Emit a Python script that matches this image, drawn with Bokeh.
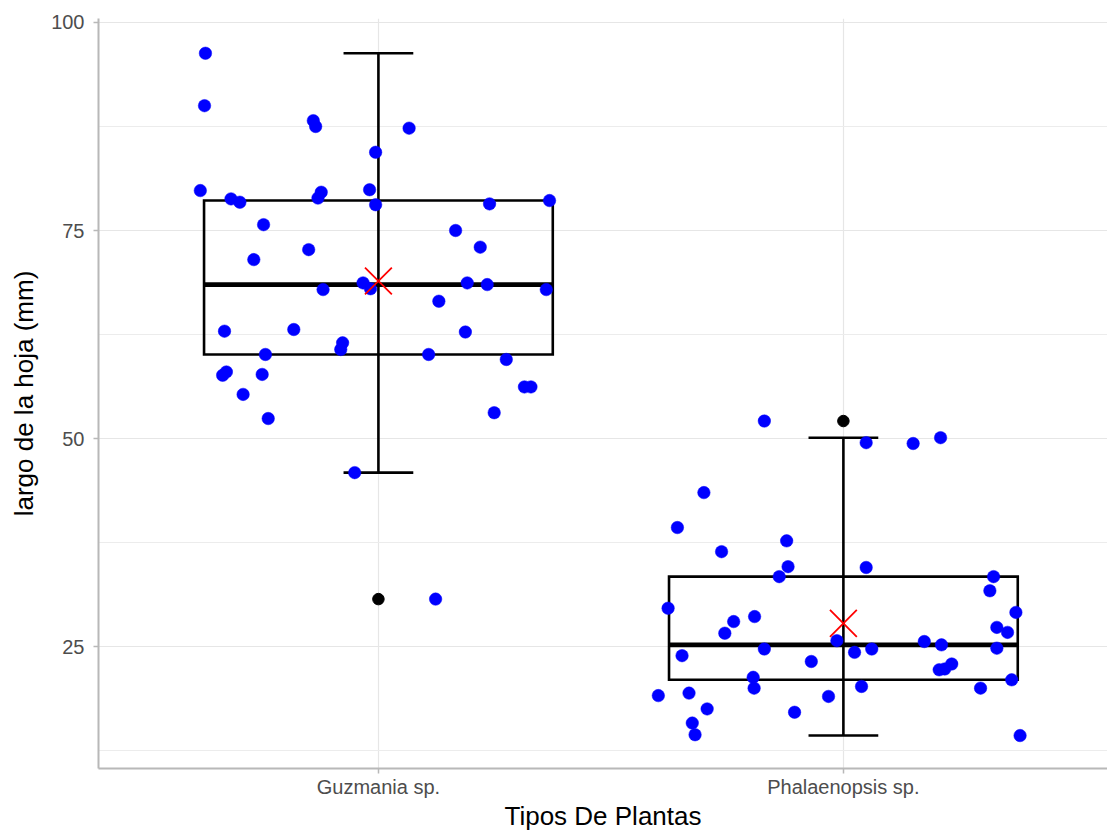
import numpy as np
from bokeh.plotting import figure
from bokeh.models import Range1d, FixedTicker, ColumnDataSource
from bokeh.embed import file_html
from bokeh.resources import INLINE

# Leaf length (mm) per plant type, with the horizontal jitter of each dot
categories = ["Guzmania sp.", "Phalaenopsis sp."]

guzmania = [96.3, 90.0, 79.8, 78.8, 78.4, 75.7, 71.5, 62.9, 58.0, 57.6,
            55.3, 60.1, 57.7, 52.4, 63.1, 72.7, 88.2, 87.5, 79.6, 78.9,
            67.9, 61.5, 60.7, 45.9, 68.7, 68.0, 79.9, 78.1, 84.4, 87.3,
            66.5, 60.1, 75.0, 73.0, 68.7, 68.5, 62.8, 59.5, 56.2, 56.2,
            53.1, 78.2, 78.6, 67.9, 30.7]
guzmania_jitter = [-0.372, -0.374, -0.383, -0.317, -0.298, -0.247, -0.268, -0.331, -0.327, -0.335,
                   -0.291, -0.243, -0.250, -0.237, -0.182, -0.150, -0.140, -0.135, -0.123, -0.130,
                   -0.119, -0.077, -0.081, -0.051, -0.033, -0.017, -0.019, -0.006, -0.006, 0.066,
                   0.130, 0.108, 0.166, 0.219, 0.191, 0.234, 0.187, 0.275, 0.314, 0.328,
                   0.249, 0.239, 0.368, 0.361, 0.123]

phalaenopsis = [52.1, 43.5, 39.3, 37.7, 36.4, 34.6, 33.4, 49.5, 49.4, 50.1,
                34.5, 33.4, 29.6, 28.0, 28.6, 26.6, 25.7, 24.7, 23.9, 23.2,
                21.3, 20.0, 19.1, 19.4, 19.0, 17.5, 17.1, 15.8, 14.4, 31.7,
                29.1, 27.3, 26.7, 25.6, 25.2, 24.8, 24.3, 24.7, 22.9, 22.3,
                22.2, 21.0, 20.0, 20.2, 14.3]
phalaenopsis_jitter = [-0.170, -0.300, -0.357, -0.122, -0.262, -0.119, -0.138, 0.049, 0.150, 0.209,
                       0.049, 0.323, -0.377, -0.236, -0.191, -0.255, -0.014, -0.170, -0.347, -0.069,
                       -0.194, -0.192, -0.398, -0.332, -0.032, -0.293, -0.105, -0.325, -0.319, 0.315,
                       0.371, 0.330, 0.353, 0.174, 0.211, 0.330, 0.024, 0.061, 0.233, 0.218,
                       0.206, 0.362, 0.295, 0.039, 0.380]

groups = [(guzmania, guzmania_jitter), (phalaenopsis, phalaenopsis_jitter)]

FONT = "Liberation Sans"
BOX_HALF = 0.375
CAP_HALF = 0.075

p = figure(width=1107, height=833,
           x_range=Range1d(0.398, 2.568), y_range=Range1d(10.34, 100.48),
           output_backend="svg", toolbar_location=None,
           min_border_left=98, min_border_right=0,
           min_border_top=18, min_border_bottom=65)
p.outline_line_color = None
p.background_fill_color = "white"
p.border_fill_color = "white"

# axes
p.xaxis.ticker = FixedTicker(ticks=[1, 2])
p.xaxis.major_label_overrides = {1: categories[0], 2: categories[1]}
p.yaxis.ticker = FixedTicker(ticks=[25, 50, 75, 100],
                             minor_ticks=[12.5, 37.5, 62.5, 87.5])
for ax in (p.xaxis, p.yaxis):
    ax.axis_line_color = "#b8b8b8"
    ax.axis_line_width = 2
    ax.major_tick_line_color = "#b8b8b8"
    ax.major_tick_line_width = 1.5
    ax.major_tick_out = 5
    ax.major_tick_in = 0
    ax.minor_tick_line_color = None
    ax.major_label_text_font = FONT
    ax.major_label_text_font_size = "20px"
    ax.major_label_text_color = "#4d4d4d"
    ax.axis_label_text_font = FONT
    ax.axis_label_text_font_size = "26px"
    ax.axis_label_text_font_style = "normal"
    ax.axis_label_text_color = "black"
p.xaxis.axis_label = "Tipos De Plantas"
p.yaxis.axis_label = "largo de la hoja (mm)"
p.xaxis.major_label_standoff = 2
p.xaxis.axis_label_standoff = 0
p.yaxis.major_label_standoff = 9
p.yaxis.axis_label_standoff = 9

# grid
p.xgrid.grid_line_color = "#e6e6e6"
p.xgrid.grid_line_width = 1.2
p.ygrid.grid_line_color = "#e6e6e6"
p.ygrid.grid_line_width = 1.2
p.ygrid.minor_grid_line_color = "#ececec"
p.ygrid.minor_grid_line_width = 1

# box statistics from the data (Tukey whiskers at 1.5 IQR)
stats = dict(x=[], q1=[], med=[], q3=[], lo=[], hi=[], mean=[])
out_x, out_y = [], []
for i, (vals, _) in enumerate(groups):
    v = np.array(vals)
    q1, med, q3 = np.percentile(v, [25, 50, 75])
    iqr = q3 - q1
    inside = v[(v >= q1 - 1.5 * iqr) & (v <= q3 + 1.5 * iqr)]
    outs = v[(v < q1 - 1.5 * iqr) | (v > q3 + 1.5 * iqr)]
    cx = i + 1
    stats["x"].append(cx)
    stats["q1"].append(q1)
    stats["med"].append(med)
    stats["q3"].append(q3)
    stats["lo"].append(inside.min())
    stats["hi"].append(inside.max())
    stats["mean"].append(v.mean())
    out_x.extend([cx] * len(outs))
    out_y.extend(outs.tolist())

src = ColumnDataSource(stats)
src.data["left"] = [x - BOX_HALF for x in stats["x"]]
src.data["right"] = [x + BOX_HALF for x in stats["x"]]
src.data["cap_l"] = [x - CAP_HALF for x in stats["x"]]
src.data["cap_r"] = [x + CAP_HALF for x in stats["x"]]

# whiskers (error bars) spanning the full range, then caps
p.segment(x0="x", y0="lo", x1="x", y1="hi", source=src,
          line_color="black", line_width=2.6)
p.segment(x0="cap_l", y0="lo", x1="cap_r", y1="lo", source=src,
          line_color="black", line_width=2.6)
p.segment(x0="cap_l", y0="hi", x1="cap_r", y1="hi", source=src,
          line_color="black", line_width=2.6)

# boxes and medians
p.quad(left="left", right="right", bottom="q1", top="q3", source=src,
       fill_color=None, line_color="black", line_width=2.6, line_join="miter")
p.segment(x0="left", y0="med", x1="right", y1="med", source=src,
          line_color="black", line_width=4.6)

# jittered observations
for i, (vals, jit) in enumerate(groups):
    xs = [i + 1 + j for j in jit]
    p.scatter(x=xs, y=vals, size=12.5, fill_color="blue", line_color="blue",
              line_width=0.5)

# outliers
p.scatter(x=out_x, y=out_y, size=11.5, fill_color="black", line_color="black")

# group means
p.scatter(x="x", y="mean", source=src, marker="x", size=38,
          line_color="red", line_width=1.8)

open("out.html", "w").write(file_html(p, INLINE))
